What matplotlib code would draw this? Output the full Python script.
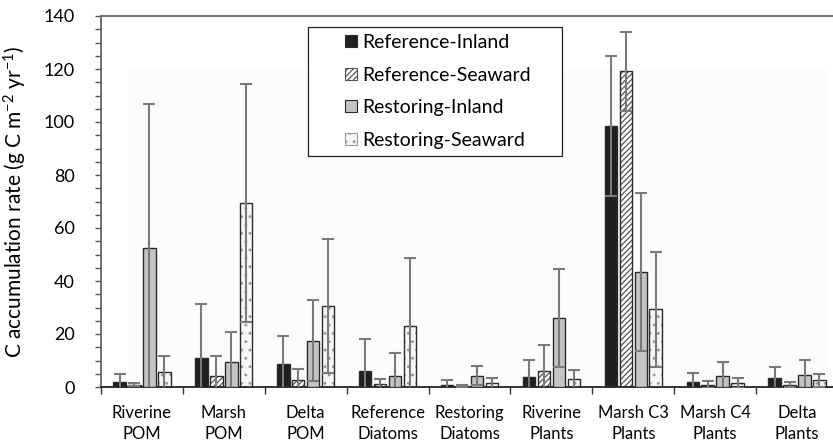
import matplotlib
matplotlib.use("Agg")
import matplotlib.pyplot as plt
import numpy as np
from matplotlib.patches import Patch, Rectangle
from matplotlib.ticker import MultipleLocator

plt.rcParams['font.family'] = ['Lato', 'DejaVu Sans']
plt.rcParams['mathtext.fontset'] = 'custom'
plt.rcParams['mathtext.rm'] = 'Lato'
plt.rcParams['mathtext.it'] = 'Lato:italic'
plt.rcParams['mathtext.bf'] = 'Lato:bold'
plt.rcParams['hatch.linewidth'] = 0.9

# Source categories along the x axis
categories = ["Riverine\nPOM", "Marsh\nPOM", "Delta\nPOM", "Reference\nDiatoms",
              "Restoring\nDiatoms", "Riverine\nPlants", "Marsh C3\nPlants",
              "Marsh C4\nPlants", "Delta\nPlants"]

series = ["Reference-Inland", "Reference-Seaward", "Restoring-Inland", "Restoring-Seaward"]

# Mean C accumulation rates (g C m-2 yr-1)
ref_inland = [2.0, 11.1, 8.7, 6.0, 0.8, 3.9, 98.5, 1.9, 3.4]
ref_seaward = [0.8, 4.3, 2.6, 1.0, 0.4, 6.0, 119.2, 0.9, 0.9]
rest_inland = [52.3, 9.4, 17.4, 4.3, 4.2, 25.9, 43.5, 4.2, 4.5]
rest_seaward = [5.5, 69.3, 30.6, 22.9, 1.4, 2.9, 29.3, 1.5, 2.5]

# Standard errors
ref_inland_err = [3.0, 20.2, 10.5, 12.2, 2.0, 6.4, 26.4, 3.5, 4.1]
ref_seaward_err = [0.6, 7.3, 4.3, 2.1, 0.3, 9.7, 14.9, 1.2, 1.0]
rest_inland_err = [54.4, 11.3, 15.3, 8.4, 3.6, 18.5, 29.8, 5.4, 5.8]
rest_seaward_err = [6.2, 44.9, 25.2, 25.9, 2.1, 3.6, 21.8, 2.0, 2.4]

values = [ref_inland, ref_seaward, rest_inland, rest_seaward]
errors = [ref_inland_err, ref_seaward_err, rest_inland_err, rest_seaward_err]

# fill colour, hatch, hatch colour per series
styles = [
    ("#231f20", None, None),
    ("white", "//////", "#555555"),
    ("#c4c4c4", None, None),
    ("#f7f7f7", "..", "#9a9a9a"),
]

W, H = 833, 442
fig = plt.figure(figsize=(W / 100, H / 100), dpi=100)
ax = fig.add_axes([101 / W, 1 - 387 / H, 737 / W, 371 / H])
ax.set_facecolor("white")

# faint plot-area shading behind the bars
ax.add_patch(Rectangle((128 / W, 1 - 387 / H), (826 - 128) / W, (387 - 69) / H,
                       transform=fig.transFigure, facecolor="#fcfcfc",
                       edgecolor="none", zorder=0.5, clip_on=False))

x = np.arange(len(categories))
bw = 0.152
offsets = [-0.274, -0.0915, 0.0915, 0.274]
edge = "#2a2a2a"

for vals, errs, off, (fc, hatch, hc) in zip(values, errors, offsets, styles):
    pos = x + off
    if hatch:
        ax.bar(pos, vals, bw, color=fc, edgecolor=hc, hatch=hatch, linewidth=0, zorder=2)
        ax.bar(pos, vals, bw, facecolor="none", edgecolor=edge, linewidth=1.0, zorder=3)
    else:
        ax.bar(pos, vals, bw, color=fc, edgecolor=edge, linewidth=1.0, zorder=3)
    ax.errorbar(pos, vals, yerr=errs, fmt="none", ecolor="#7a7a7a", elinewidth=1.5,
                capsize=4.3, capthick=1.5, zorder=4)

ax.set_xlim(-0.5, len(categories) - 0.5)
ax.set_ylim(0, 140)
ax.yaxis.set_major_locator(MultipleLocator(20))
ax.yaxis.set_minor_locator(MultipleLocator(5))
ax.tick_params(axis="y", which="both", direction="out", length=4, width=1,
               color="#555555", labelsize=13, pad=15)

ax.set_xticks(x)
ax.set_xticklabels(categories, fontsize=12, linespacing=1.35)
ax.tick_params(axis="x", which="major", length=0, pad=13)
ax.set_xticks(np.arange(-0.5, len(categories)), minor=True)
ax.tick_params(axis="x", which="minor", length=5, width=1, color="#333333")

for s in ["top", "left"]:
    ax.spines[s].set_color("#666666")
    ax.spines[s].set_linewidth(1.3)
ax.spines["bottom"].set_color("#222222")
ax.spines["bottom"].set_linewidth(1.3)
ax.spines["right"].set_visible(False)

ax.set_ylabel("C accumulation rate (g C m$^{-2}$ yr$^{-1}$)", fontsize=15, labelpad=10)

handles = []
for (fc, hatch, hc), name in zip(styles, series):
    if hatch:
        handles.append(Patch(facecolor=fc, edgecolor=hc, hatch=hatch, linewidth=0.8, label=name))
    else:
        handles.append(Patch(facecolor=fc, edgecolor=edge, linewidth=0.8, label=name))

# legend frame drawn separately so the padding can be uneven
fig.patches.append(Rectangle((308 / W, 1 - 156 / H), (562 - 308) / W, (156 - 27) / H,
                             transform=fig.transFigure, facecolor="white",
                             edgecolor="#222222", linewidth=0.9, zorder=5))
leg = fig.legend(handles=handles, loc="upper left", bbox_to_anchor=(345 / W, 1 - 34 / H),
                 fontsize=14, frameon=False, handlelength=0.6,
                 handleheight=0.6, handletextpad=0.3, labelspacing=0.8,
                 borderpad=0, borderaxespad=0)
leg.set_zorder(10)

fig.savefig("out.png", dpi=100)
